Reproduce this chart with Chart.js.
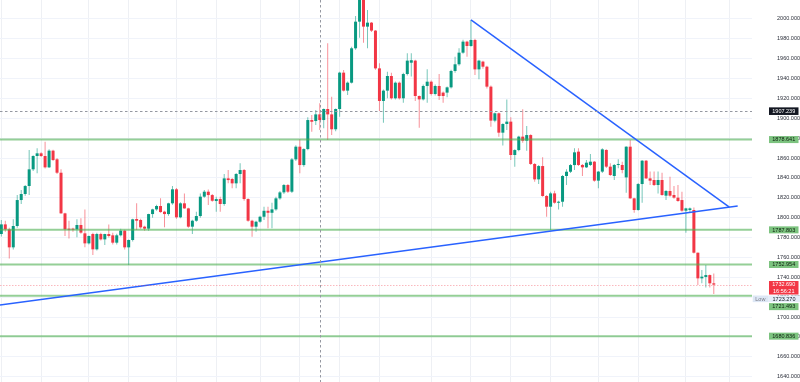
<!DOCTYPE html>
<html><head><meta charset="utf-8">
<script src="https://cdn.jsdelivr.net/npm/chart.js@4.4.1/dist/chart.umd.min.js"></script>
<style>html,body{margin:0;padding:0;background:#fff}#wrap{width:800px;height:382px;position:relative}</style>
</head><body><div id="wrap"><canvas id="c" width="800" height="382"></canvas></div>
<script>
const opens = [1783.6,1793.3,1788.3,1770.2,1791.7,1817.8,1823.9,1831.9,1848.7,1862.1,1864.8,1862.1,1850.7,1867.5,1858.8,1845.3,1804.4,1788.6,1788.6,1788.3,
1792.7,1784.3,1774.2,1783.6,1768.2,1783.6,1778.2,1783.6,1782.3,1774.9,1782.3,1787,1770.2,1777.6,1798.7,1797.7,1791,1789,1803.7,1808.4,
1811.8,1806.1,1803.7,1814.5,1828.6,1800.4,1814.5,1809.4,1791,1797,1801.7,1821.2,1826.2,1822.8,1816.8,1818.8,1813.8,1839.6,1839,1834.6,
1844,1848,1818.8,1797,1791,1796,1801,1807,1805,1808.4,1819.5,1825.5,1832.9,1826.2,1858.7,1871.5,1853,1869.1,1898.3,1897.3,
1904,1898.3,1909.4,1904,1889,1909.4,1946,1927.9,1935.9,1970.5,1997.3,2021,1992.3,1996.3,1988.3,1950.3,1917.5,1927.9,1942.6,1920.2,
1935.9,1920.2,1944.6,1956,1958.1,1922.5,1919.1,1932.6,1936.9,1924.5,1932.6,1925.9,1925.9,1931.2,1947.7,1954.4,1966.1,1977.2,1972.8,1978.9,
1949.3,1957.1,1952,1931.9,1897.7,1905.1,1885.6,1894.3,1896.7,1863.1,1868.1,1881.6,1877.5,1883.2,1854.1,1838.6,1852,1821.9,1811.1,1824.5,
1815.1,1816.1,1842,1846.3,1853,1866.5,1853.1,1850.7,1853.1,1856.4,1837.3,1846.4,1868.2,1851.4,1842,1853.1,1853.1,1840.6,1871.5,1819.5,
1807.8,1833.9,1857.4,1839.6,1838,1832.9,1838,1822.2,1826.9,1822.9,1820.2,1817.8,1807.1,1807.8,1807.8,1764.8,1739,1740.4,1742.3,1734];
const highs = [1797.7,1797,1790,1798.4,1822.9,1827.9,1833,1868.1,1863,1869.8,1866,1876.5,1869,1868.5,1860,1848.7,1805,1797,1790,1798.4,
1799.4,1808.4,1782,1785,1785,1785,1784,1793.3,1785,1784,1789,1788,1778,1799,1814.5,1799,1792,1804,1809,1813,
1819.5,1807,1815,1831.9,1830,1815.5,1824.5,1810,1798,1806,1824.5,1828,1828.5,1824,1821.2,1821.2,1844,1848,1840,1845,
1854.7,1849,1819.5,1798,1797,1802,1811.1,1811.1,1815.1,1821,1827,1834,1834,1860,1873,1878.9,1870,1901,1903.4,1908.4,
1915.1,1910,1975.5,1921.8,1910,1947,1948.7,1937,1972,2003,2030,2030,2009,1997,1989,1955.4,1929,1947,1946,1937,
1937,1946,1965.5,1965.5,1959,1923,1934,1949.3,1938,1934,1944.6,1927,1932,1949,1962,1970.5,1979,1978,1999,1980,
1959,1958,1953,1933,1906,1906,1895,1919.1,1901,1869,1882.5,1909.1,1892.3,1884,1855,1853,1860.8,1823,1826.2,1827.2,
1817,1843,1848.7,1854,1869.8,1869.8,1854,1858.1,1864.1,1857,1847,1869.8,1869,1854.7,1854,1858.8,1856.4,1872,1878.2,1820,
1835,1858,1858,1846.4,1846.4,1846.4,1845.3,1828,1841.3,1831.9,1832.9,1826.2,1810,1810.4,1810.4,1765,1747.4,1752.4,1743,1744];
const lows = [1781,1786,1759.1,1768,1790,1813.8,1822,1822.9,1847,1844.7,1861,1849.5,1850,1857,1844,1804,1781.6,1779.2,1786,1780.3,
1784,1770.2,1773,1762.5,1767,1777,1772.5,1780,1773,1773,1781,1768,1752.4,1776,1787.6,1789,1787,1787,1800,1807,
1805,1790.3,1802,1813,1799,1799.5,1809,1790,1783.6,1796,1800,1820,1812.8,1816,1806.1,1806.1,1812,1834.6,1829.6,1829.6,
1834.6,1817,1796,1780.9,1785.9,1795,1797.7,1789.3,1789.3,1807,1818,1824,1825,1825,1857,1844.7,1851.4,1868,1886.6,1893.3,
1888.3,1890,1878.2,1883.2,1887,1901.7,1927,1923.5,1935,1969,1981.2,1976.2,1970.5,1987,1949,1907.4,1895.7,1920.2,1919,1919,
1919,1915.8,1943,1942,1917.5,1890.6,1918,1915.8,1923,1923,1918.5,1915.8,1921.2,1930,1946,1953,1965,1962.1,1972,1943.6,
1939.3,1950,1930,1891.6,1896,1881.6,1872.8,1888.3,1858.1,1851.4,1867,1875.5,1867.5,1853,1836.3,1833.9,1821,1801.1,1787.6,1814,
1808.4,1811.1,1832.9,1845,1848,1852,1842,1850,1852,1836.3,1829.6,1845,1850,1842,1838,1849.7,1844.7,1825.2,1819,1805.1,
1807,1815.1,1839,1832.9,1832,1824.5,1822,1817.8,1821,1819,1816,1806,1784.9,1805.7,1764,1732.3,1734,1729.9,1729.9,1723.27];
const closes = [1793.3,1788.3,1770.2,1791.7,1817.8,1823.9,1831.9,1848.7,1862.1,1864.8,1862.1,1850.7,1867.5,1858.1,1845.3,1804.4,1788.3,1788,1788,1792.7,
1785,1774.2,1781.6,1768.2,1783.6,1778.2,1783.6,1781.6,1774.9,1782.3,1787,1770.2,1777.6,1798.4,1797,1790.3,1789,1803.7,1808.4,1811.8,
1805.7,1803.7,1814.5,1828.6,1800.4,1814.5,1809.4,1791,1797,1801.7,1821.2,1826.2,1822.8,1817.1,1818.8,1813.8,1839.6,1837.9,1834.6,1844,
1848,1818.8,1797,1791,1796,1801,1807,1805,1808.4,1819.5,1825.5,1832.9,1826.2,1858.7,1871.5,1853,1869.1,1898.3,1896.6,1904,
1898.3,1909.4,1904,1889,1909.4,1946,1927.9,1935.9,1970.5,1997.3,2021,1992.3,1996.3,1988.3,1950.3,1917.5,1927.9,1942.6,1920.2,1935.9,
1920.2,1944.6,1958.1,1958.5,1922.5,1919.1,1932.6,1936.9,1924.5,1932.6,1922.5,1922.5,1931.2,1947.7,1954.4,1966.1,1977.2,1972.8,1978.9,1949.3,
1958.1,1952,1931.9,1897.7,1905.1,1885.6,1894.3,1896.7,1863.1,1868.1,1881.6,1877.5,1883.2,1854.1,1838.6,1852,1821.9,1811.1,1824.5,1815.1,
1816.1,1842,1846.3,1853,1865.8,1853.1,1850.7,1855.4,1856.4,1837.3,1846.4,1868.8,1851.4,1843,1853.1,1854.1,1848,1871.5,1819.5,1807.8,
1833.9,1857.4,1839.6,1837.3,1832.9,1838,1822.9,1826.9,1822.2,1820.2,1816.8,1807.1,1809.4,1809.4,1764.8,1739,1740.7,1742.3,1734,1732.69];

const yTickValues = [1640,1660,1680,1700,1720,1740,1760,1780,1800,1820,1840,1860,1880,1900,1920,1940,1960,1980,2000];
const xGridIndex = [0,10,22,32,44,54,65,75,85,95,108,118,128,138,150,160,172,183];
const levelValues = [1878.641,1787.803,1752.954,1721.493,1680.836];
const trendDownIdx = [118,182.9];
const trendDownVal = [1999.0,1810.6];
const trendUpIdx = [-0.33,185];
const trendUpVal = [1712.2,1811.7];
const lastPrice = 1732.690;
const countdownText = '16:56:21';
const lowValue = 1723.270;
const lowText = 'Low';
const crosshairPrice = 1907.239;
const crosshairIndex = 80;

const GREEN = '#089981', RED = '#f23645';
const GREEN_W = 'rgba(8,153,129,0.55)', RED_W = 'rgba(242,54,69,0.55)';
const idx = opens.map((_, i) => i);
const up = idx.map(i => closes[i] >= opens[i]);
const FONT = '5.5px "Liberation Sans", Arial, sans-serif';

const datasets = [
  { type:'bar', label:'wick', order:2, grouped:false, barThickness:1, inflateAmount:0,
    data: idx.map(i => ({x:i, y:[lows[i], highs[i]]})),
    backgroundColor: idx.map(i => up[i] ? GREEN_W : RED_W) },
  { type:'bar', label:'body', order:1, grouped:false, barThickness:3, minBarLength:1, inflateAmount:0,
    data: idx.map(i => ({x:i, y:[opens[i], closes[i]]})),
    backgroundColor: idx.map(i => up[i] ? GREEN : RED) }
];
levelValues.forEach(v => datasets.push({
  type:'line', order:0, data:[{x:-1, y:v},{x:200, y:v}], borderColor:'rgba(76,175,80,0.6)',
  borderWidth:2, pointRadius:0, fill:false
}));
datasets.push({ type:'line', order:-1, data: trendDownIdx.map((x,k)=>({x, y:trendDownVal[k]})),
  borderColor:'#2962ff', borderWidth:1.5, pointRadius:0, fill:false });
datasets.push({ type:'line', order:-1, data: trendUpIdx.map((x,k)=>({x, y:trendUpVal[k]})),
  borderColor:'#2962ff', borderWidth:1.5, pointRadius:0, fill:false });

function box(ctx, x, yTop, w, h, bg, lines, color) {
  ctx.fillStyle = bg; ctx.fillRect(x, yTop, w, h);
  ctx.fillStyle = color; ctx.font = FONT; ctx.textAlign = 'center'; ctx.textBaseline = 'middle';
  const lh = h / lines.length;
  lines.forEach((t, k) => ctx.fillText(t, x + w/2, yTop + lh*k + lh/2 + 0.3));
}

const overlay = {
  id:'overlay',
  afterDatasetsDraw(chart) {
    const {ctx, chartArea:a, scales:{x, y}} = chart;
    ctx.save();
    const py = Math.round(y.getPixelForValue(lastPrice)) + 0.5;
    ctx.strokeStyle = 'rgba(242,54,69,0.35)'; ctx.lineWidth = 1; ctx.setLineDash([1.5,1.5]);
    ctx.beginPath(); ctx.moveTo(a.left, py); ctx.lineTo(a.right, py); ctx.stroke();
    ctx.strokeStyle = '#9598a1'; ctx.setLineDash([2.5,2.5]);
    const cy = Math.round(y.getPixelForValue(crosshairPrice)) + 0.5;
    ctx.beginPath(); ctx.moveTo(a.left, cy); ctx.lineTo(a.right, cy); ctx.stroke();
    const cx = Math.round(x.getPixelForValue(crosshairIndex)) + 0.5;
    ctx.beginPath(); ctx.moveTo(cx, a.top); ctx.lineTo(cx, a.bottom); ctx.stroke();
    ctx.restore();
  },
  afterDraw(chart) {
    const {ctx, chartArea:a, scales:{y}} = chart;
    ctx.save();
    const bx = a.right + 17, bw = 29.5, bh = 7;
    const cyv = y.getPixelForValue(crosshairPrice);
    box(ctx, bx, cyv - 3.8, bw, 7.6, '#131722', [crosshairPrice.toFixed(3)], '#ffffff');
    const items = [];
    levelValues.forEach(v => items.push({top: y.getPixelForValue(v) - bh/2, h: bh, kind:'level', v}));
    items.push({top: y.getPixelForValue(lastPrice) - 3.6, h: 13.5, kind:'last', v:lastPrice});
    items.push({top: y.getPixelForValue(lowValue) - bh/2, h: bh - 0.4, kind:'low', v:lowValue});
    items.sort((p, q) => p.top - q.top);
    let prevBottom = -100;
    items.forEach(it => {
      it.top = Math.max(it.top, prevBottom + 1);
      prevBottom = it.top + it.h;
    });
    items.forEach(it => {
      if (it.kind === 'level') box(ctx, bx, it.top, bw, it.h, '#7cc37f', [it.v.toFixed(3)], '#0d1f0e');
      else if (it.kind === 'last') box(ctx, bx, it.top, bw, it.h, '#f23645', [it.v.toFixed(3), countdownText], '#ffffff');
      else {
        box(ctx, a.right + 0.7, it.top, 15.3, it.h, '#dde7f5', [lowText], '#787b86');
        box(ctx, a.right + 16, it.top, 32, it.h, '#e6eef9', [it.v.toFixed(3)], '#131722');
      }
    });
    ctx.restore();
  }
};

new Chart(document.getElementById('c'), {
  type:'bar',
  data:{ datasets },
  options:{
    responsive:false, devicePixelRatio:1, animation:false,
    layout:{ padding:0, autoPadding:false },
    plugins:{ legend:{display:false}, tooltip:{enabled:false} },
    scales:{
      x:{ type:'linear', min:-0.33, max:188.6, offset:false,
          grid:{ color:'#eef0f4', drawTicks:false, offset:false },
          border:{ display:false },
          ticks:{ display:false },
          afterBuildTicks: s => { s.ticks = xGridIndex.map(v => ({value:v})); },
          afterFit: s => { s.height = 0; s.paddingLeft = 0; s.paddingRight = 0; } },
      y:{ type:'linear', position:'right', min:1634.7, max:2019.1,
          grid:{ color:'#f0f3fa', drawTicks:false },
          border:{ display:false },
          afterBuildTicks: s => { s.ticks = yTickValues.map(v => ({value:v})); },
          afterFit: s => { s.width = 48; s.paddingTop = 0; s.paddingBottom = 0; },
          ticks:{ crossAlign:'far', padding:17, color:'#2a2e39',
                  font:{ size:5.5, family:'"Liberation Sans", Arial, sans-serif' },
                  callback: v => Number(v).toFixed(3) } }
    }
  },
  plugins:[overlay]
});
</script></body></html>
